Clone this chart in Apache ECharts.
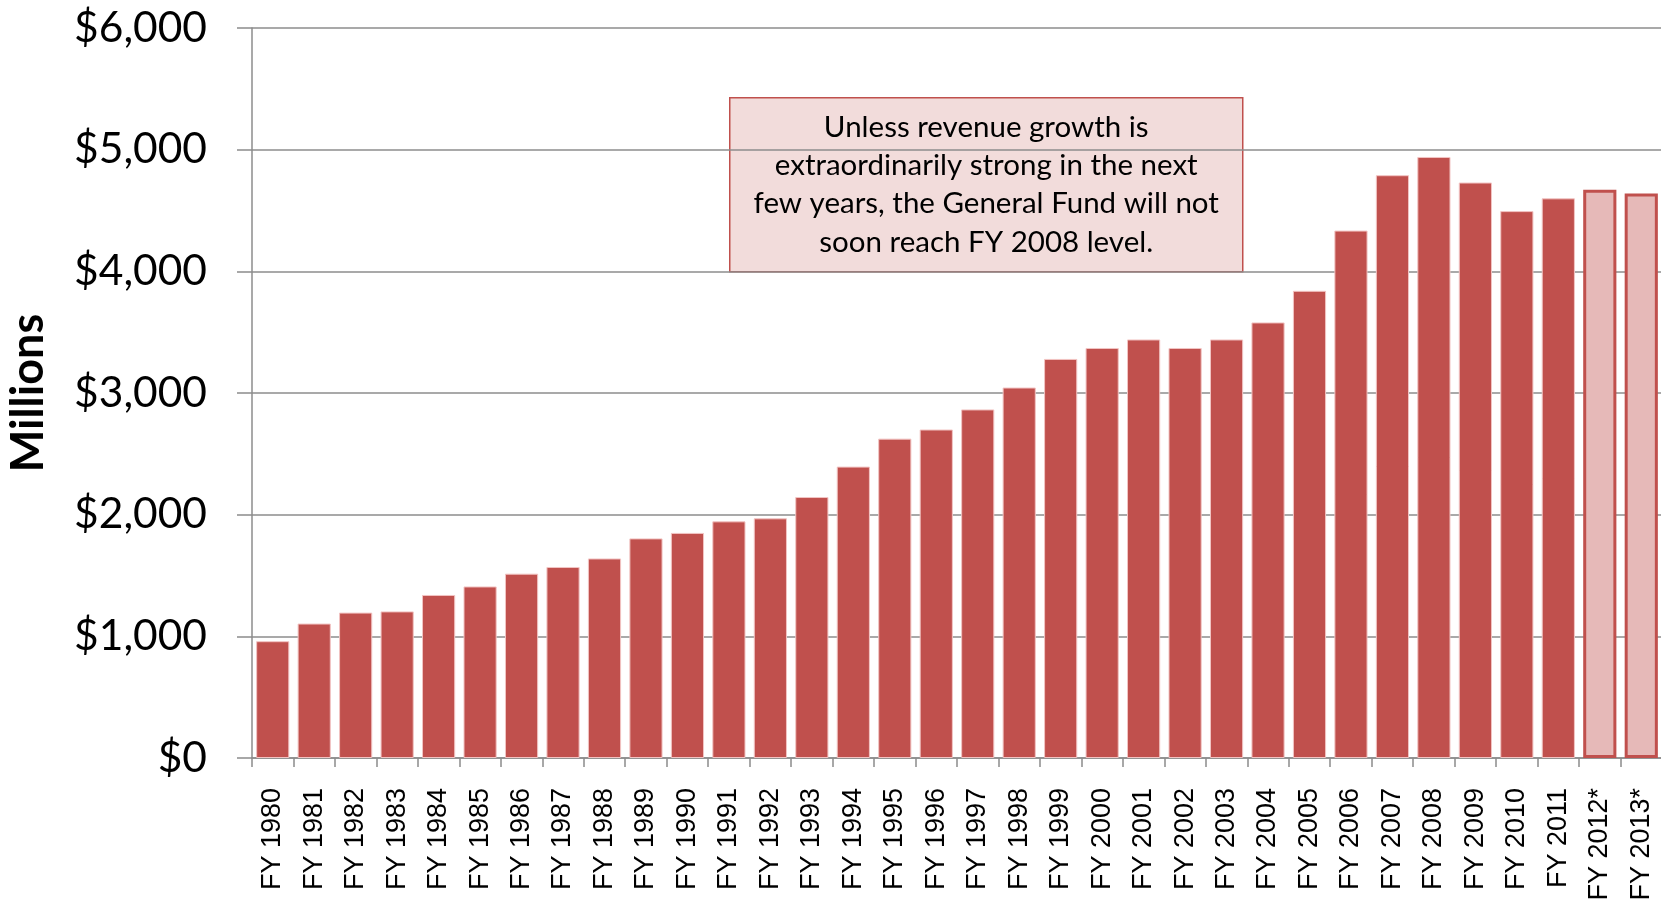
<!DOCTYPE html>
<html>
<head>
<meta charset="utf-8">
<title>General Fund Revenue</title>
<script src="https://cdn.jsdelivr.net/npm/echarts@6/dist/echarts.min.js"></script>
<style>
  html, body { margin: 0; padding: 0; background: #ffffff; }
  #chart { width: 1661px; height: 909px; }
</style>
</head>
<body>
<div id="chart"></div>
<script>
// Fiscal years shown on the category axis
const fiscalYears = [
  'FY 1980', 'FY 1981', 'FY 1982', 'FY 1983', 'FY 1984', 'FY 1985', 'FY 1986',
  'FY 1987', 'FY 1988', 'FY 1989', 'FY 1990', 'FY 1991', 'FY 1992', 'FY 1993',
  'FY 1994', 'FY 1995', 'FY 1996', 'FY 1997', 'FY 1998', 'FY 1999', 'FY 2000',
  'FY 2001', 'FY 2002', 'FY 2003', 'FY 2004', 'FY 2005', 'FY 2006', 'FY 2007',
  'FY 2008', 'FY 2009', 'FY 2010', 'FY 2011', 'FY 2012*', 'FY 2013*'
];

// General Fund revenue, millions of dollars
const revenue = [
  960, 1105, 1195, 1205, 1340, 1410, 1515,
  1570, 1640, 1805, 1850, 1945, 1970, 2145,
  2395, 2625, 2700, 2865, 3045, 3280, 3370,
  3440, 3370, 3440, 3580, 3840, 4335, 4790,
  4940, 4730, 4495, 4600, 4670, 4640
];

// Projected years (drawn with a lighter fill)
const projectedYears = ['FY 2012*', 'FY 2013*'];

// Value axis ticks
const yMin = 0;
const yMax = 6000;
const yStep = 1000;

// Call-out text
const noteLines = [
  'Unless revenue growth is',
  'extraordinarily strong in the next',
  'few years, the General Fund will not',
  'soon reach FY 2008 level.'
];

const RED = '#C0504D';
const PINK = '#E6B9B8';
const GRID_GRAY = '#8C8C8C';

const barData = revenue.map((v, i) => {
  if (projectedYears.includes(fiscalYears[i])) {
    return {
      value: v,
      itemStyle: { color: PINK, borderColor: RED, borderWidth: 3 }
    };
  }
  return v;
});

const chart = echarts.init(document.getElementById('chart'), null, { renderer: 'canvas' });

chart.setOption({
  animation: false,
  backgroundColor: '#ffffff',
  grid: {
    left: 252, top: 28, right: -1, bottom: 151,
    containLabel: false,
    outerBoundsMode: 'none'
  },
  xAxis: {
    type: 'category',
    data: fiscalYears,
    boundaryGap: true,
    axisLine: { show: true, lineStyle: { color: GRID_GRAY, width: 1.5 } },
    axisTick: { show: true, length: 9, lineStyle: { color: GRID_GRAY, width: 1.5 } },
    axisLabel: {
      rotate: 90,
      margin: 30,
      interval: 0,
      color: '#000000',
      fontFamily: '"Liberation Sans", Arial, sans-serif',
      fontSize: 27
    }
  },
  yAxis: {
    type: 'value',
    min: yMin,
    max: yMax,
    interval: yStep,
    name: 'Millions',
    nameLocation: 'middle',
    nameRotate: 90,
    nameGap: 201,
    nameTextStyle: {
      color: '#000000',
      fontFamily: 'Lato, "Open Sans", sans-serif',
      fontWeight: 'bold',
      fontSize: 45
    },
    axisLine: { show: true, lineStyle: { color: GRID_GRAY, width: 1.5 } },
    axisTick: { show: true, length: 15, lineStyle: { color: GRID_GRAY, width: 1.5 } },
    splitLine: { show: true, lineStyle: { color: GRID_GRAY, width: 1.5 } },
    axisLabel: {
      margin: 45,
      color: '#000000',
      fontFamily: 'Lato, "Open Sans", sans-serif',
      fontSize: 42.5,
      formatter: v => '$' + v.toLocaleString('en-US')
    }
  },
  series: [{
    type: 'bar',
    data: barData,
    barCategoryGap: '20%',
    itemStyle: { color: RED, borderColor: '#F2C4C3', borderWidth: 1 }
  }],
  graphic: [{
    type: 'group',
    left: 729,
    top: 97,
    children: [{
      type: 'rect',
      shape: { x: 0, y: 0, width: 513, height: 174 },
      style: { fill: '#F2DCDB', stroke: RED, lineWidth: 1.5 }
    }, {
      type: 'text',
      x: 256.5,
      y: 87,
      style: {
        text: noteLines.join('\n'),
        fill: '#000000',
        fontFamily: 'Lato, "Open Sans", sans-serif',
        fontSize: 29.5,
        lineHeight: 38.3,
        align: 'center',
        verticalAlign: 'middle'
      }
    }]
  }]
});
</script>
</body>
</html>
